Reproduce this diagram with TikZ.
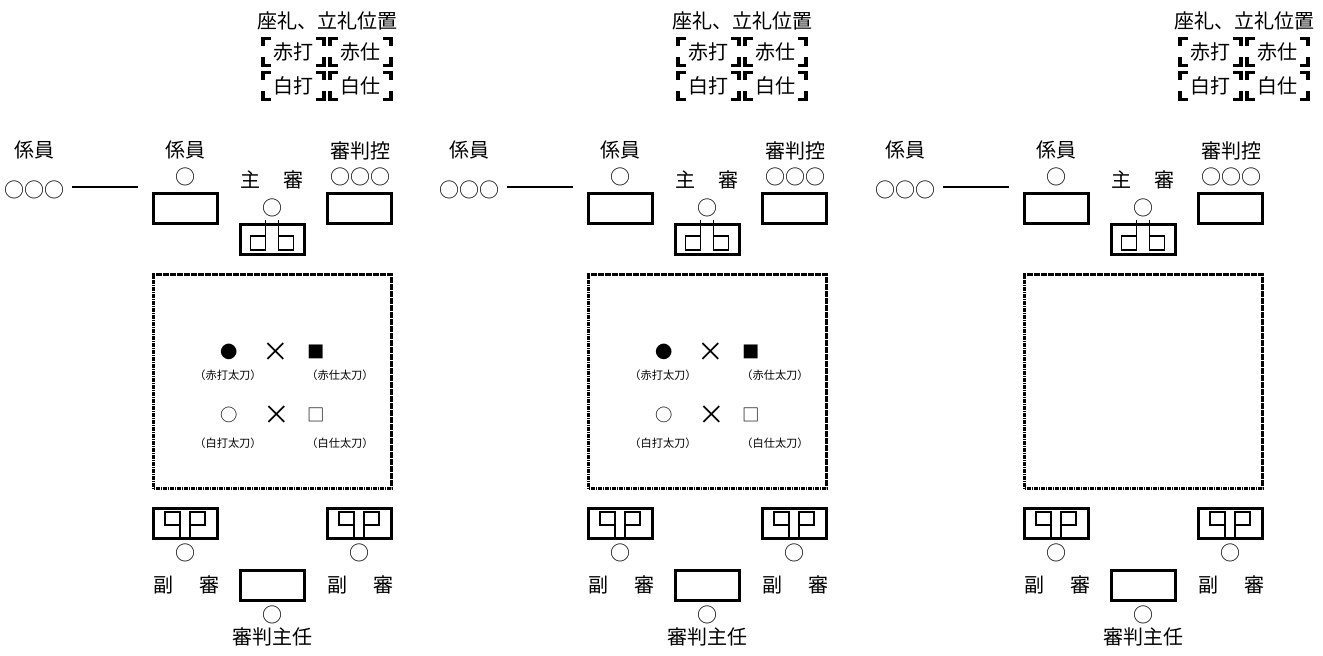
\documentclass[tikz,border=0pt]{standalone}
\usepackage{fontspec}
\setmainfont{Noto Sans CJK JP}
\begin{document}
\begin{tikzpicture}[x=0.75pt,y=-0.75pt,inner sep=0pt,outer sep=0pt,
lbl/.style={font=\fontsize{15}{15}\selectfont},
tachi/.style={font=\fontsize{8.4}{9}\selectfont},
sym/.style={font=\fontsize{13}{13}\selectfont},
cross/.style={font=\fontsize{20}{20}\selectfont},
desk/.style={draw,rectangle,line width=2.25pt,minimum width=48pt,minimum height=22.5pt},
court/.style={draw,rectangle,line width=2.6pt,dash pattern=on 1.4pt off 0.35pt,minimum width=178.5pt,minimum height=160.5pt},
seat/.style={line width=0.9pt},
brk/.style={line width=2.8pt}]
\useasboundingbox (0,0) rectangle (1323,656);
\foreach \i/\off/\lx/\marks in {1/0/327/1,2/435/307/1,3/871/373/0}{
\begin{scope}[shift={(\off,0)}]
% legend
\draw (\lx,21) node[lbl] (title\i) {座礼、立礼位置};
\foreach \k/\cx/\cy/\txt in {1/-33.5/52/赤打,2/33.5/52/赤仕,3/-33.5/86/白打,4/33.5/86/白仕}{
  \draw (\lx+\cx,\cy) node[lbl] (leg\i\k) {\txt};
  \foreach \sx/\sy in {-1/-1,1/-1,-1/1,1/1}
    \draw[brk] (\lx+\cx+\sx*22.5,\cy+\sy*13.5) -- ++(\sx*8,0) -- ++(0,-\sy*8);
}
% officials
\draw (34,150) node[lbl] (staffL\i) {係員};
\draw (34,190) node[lbl] (staffLseat\i) {○○○};
\coordinate (lineA\i) at (72,187);
\coordinate (lineB\i) at (138,187);
\draw[line width=1.3pt] (lineA\i) -- (lineB\i);
\draw (185,150) node[lbl] (staffR\i) {係員};
\draw (185,177) node[lbl] (staffRseat\i) {○};
\draw (185,208) node[desk] (staffdesk\i) {};
\draw (272,180) node[lbl] (chief\i) {主\hspace{1.15em}審};
\draw (272,208) node[lbl] (chiefseat\i) {○};
\draw (272,239.5) node[desk] (chiefchair\i) {};
\draw[seat] (chiefchair\i.center) ++(-21.5,-3.5) rectangle ++(15,14);
\draw[seat] (chiefchair\i.center) ++(6.5,-3.5) rectangle ++(15,14);
\draw[seat] (chiefchair\i.center) ++(-6.5,-19.5) -- ++(0,30);
\draw[seat] (chiefchair\i.center) ++(6.5,-19.5) -- ++(0,30);
\draw (360,151) node[lbl] (reserve\i) {審判控};
\draw (360,177) node[lbl] (reserveseat\i) {○○○};
\draw (359,208) node[desk] (reservedesk\i) {};
% court
\draw (272.5,381.5) node[court] (court\i) {};
\ifnum\marks=1
\draw (229,352) node[sym] (redA\i) {●};
\draw (276,352) node[cross] (redX\i) {×};
\draw (316,352) node[sym] (redB\i) {■};
\draw (228,375) node[tachi] (redAtxt\i) {（赤打太刀）};
\draw (340,375) node[tachi] (redBtxt\i) {（赤仕太刀）};
\draw (229,415) node[sym] (whiteA\i) {○};
\draw (277,415) node[cross] (whiteX\i) {×};
\draw (316,415) node[sym] (whiteB\i) {□};
\draw (228,443) node[tachi] (whiteAtxt\i) {（白打太刀）};
\draw (340,443) node[tachi] (whiteBtxt\i) {（白仕太刀）};
\fi
% side judges
\foreach \s/\sx in {L/185,R/359}{
  \draw (\sx,523.5) node[desk] (side\s\i) {};
  \draw[seat] (side\s\i.center) ++(-20,-11.5) rectangle ++(15,13);
  \draw[seat] (side\s\i.center) ++(5,-11.5) rectangle ++(15,13);
  \draw[seat] (side\s\i.center) ++(-5,-11.5) -- ++(0,28);
  \draw[seat] (side\s\i.center) ++(5,-11.5) -- ++(0,28);
  \draw (\sx,553) node[lbl] (side\s seat\i) {○};
  \draw (\sx+1,585) node[lbl] (side\s name\i) {副\hspace{1.3em}審};
}
\draw (272,585) node[desk] (headdesk\i) {};
\draw (272,615) node[lbl] (headseat\i) {○};
\draw (272,637) node[lbl] (head\i) {審判主任};
\end{scope}
}
\end{tikzpicture}
\end{document}
